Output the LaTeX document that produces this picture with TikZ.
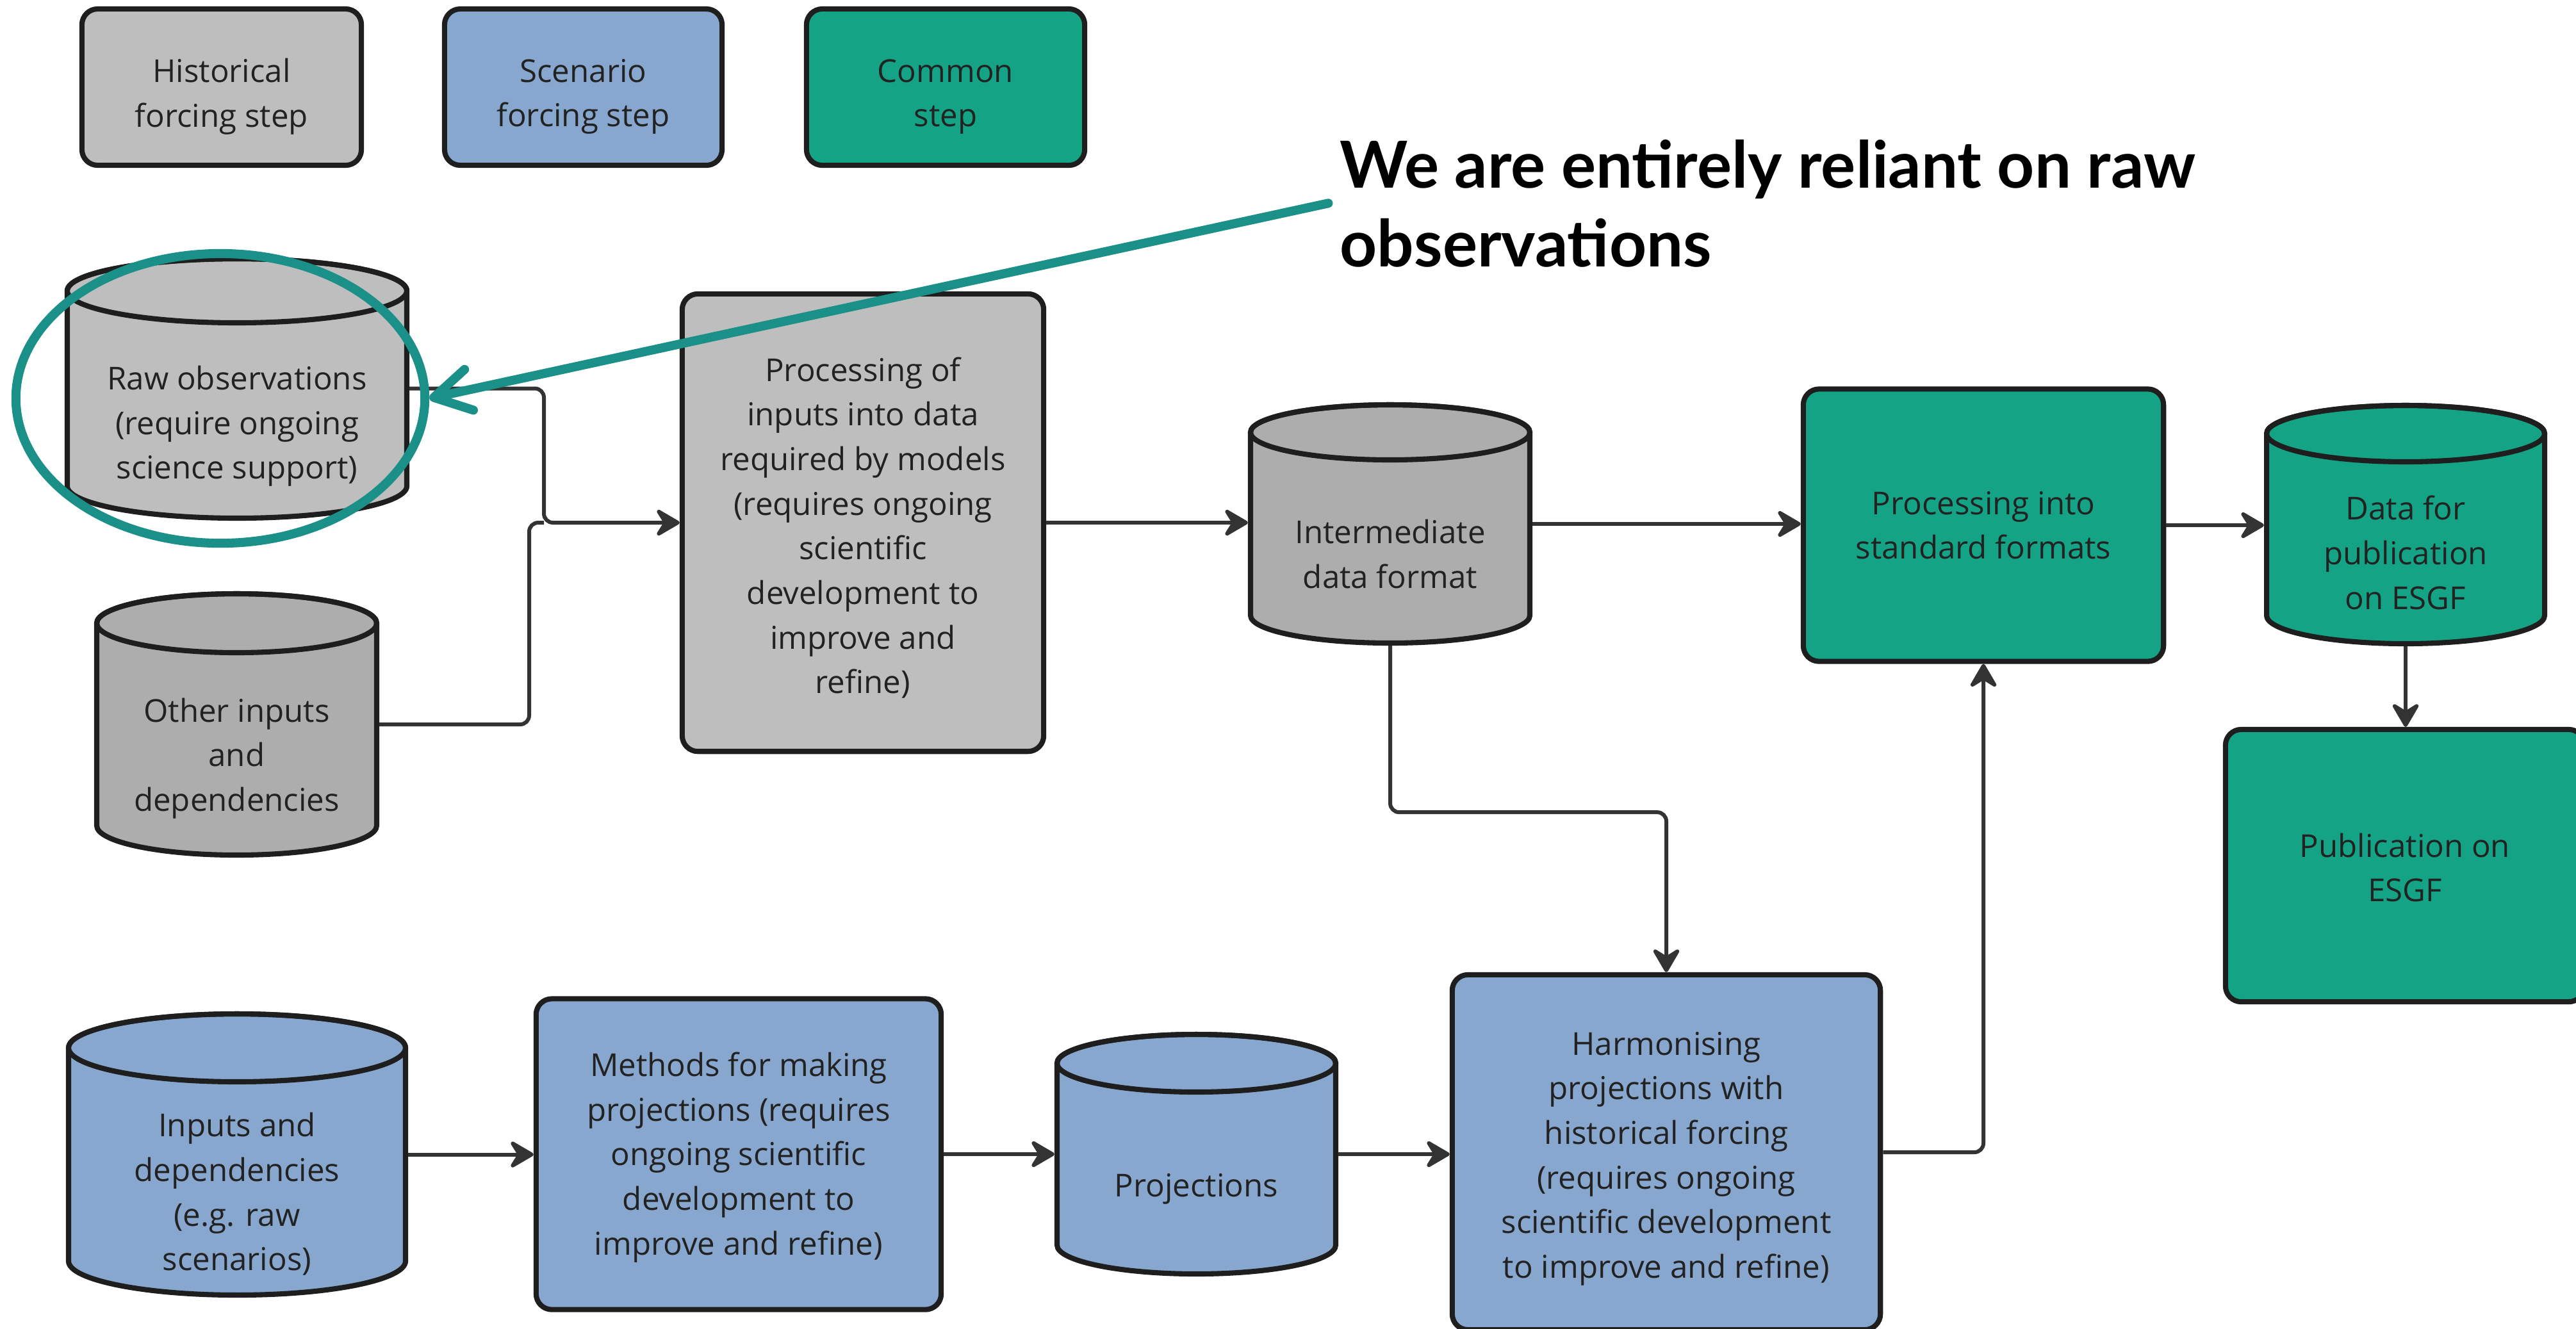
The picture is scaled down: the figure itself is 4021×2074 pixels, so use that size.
\documentclass[tikz,border=0pt]{standalone}
\usepackage{fontspec}
\setmainfont{Open Sans}
\newfontfamily\notefont{Lato}
\usetikzlibrary{arrows.meta,shapes.geometric}

\definecolor{histgray}{HTML}{BEBEBE}
\definecolor{deepgray}{HTML}{ADADAD}
\definecolor{scenblue}{HTML}{87A7CE}
\definecolor{commongreen}{HTML}{15A386}
\definecolor{hiteal}{HTML}{1A9088}
\definecolor{edgecol}{HTML}{1E1E1E}
\definecolor{wirecol}{HTML}{333333}
\definecolor{ink}{HTML}{222222}

\newcommand\boxfont{\fontsize{14}{19.8}\selectfont}

\tikzset{
  stepbox/.style={draw=edgecol, line width=2.3pt, rounded corners=7pt, inner sep=0pt},
  boxtext/.style={align=center, inner sep=0pt, text=ink, font=\boxfont},
  drumline/.style={draw=edgecol, line width=2.3pt},
  wire/.style={draw=wirecol, line width=1.7pt, rounded corners=4pt,
               -{Stealth[length=12.5pt,width=14.5pt,inset=4.5pt,round]}},
  plainwire/.style={draw=wirecol, line width=1.7pt, rounded corners=4pt},
  tealline/.style={draw=hiteal, line width=4pt, line cap=round},
}

% process box: name, centre x, centre y, width, height, fill, text drop, text
\newcommand\stepnode[8]{%
  \pgfmathsetmacro\sw{#4/100}%
  \pgfmathsetmacro\sh{#5/100}%
  \node[stepbox, fill=#6, minimum width=\sw cm, minimum height=\sh cm] (#1) at (#2,-#3) {};
  \node[boxtext] (#1t) at (#2,-#3-#7) {#8};
}

% database drum: name, left, top, right, bottom, cap radius, fill, text drop, text
\newcommand\drum[9]{%
  \pgfmathsetmacro\dcx{(#2+#4)/2}%
  \pgfmathsetmacro\drx{(#4-#2)/2}%
  \pgfmathsetmacro\dw{(#4-#2)/100}%
  \pgfmathsetmacro\dh{(#5-#3)/100}%
  \pgfmathsetmacro\dcy{-(#3+#5)/2}%
  \pgfmathsetmacro\dty{-(#3+#6)}%
  \pgfmathsetmacro\dby{-(#5-#6)}%
  \pgfmathsetmacro\dly{-(#3+2*#6+#5)/2-#8}%
  \path[drumline, fill=#7] (#2,\dty) -- (#2,\dby)
     arc[start angle=180, end angle=360, x radius=\drx, y radius=#6]
     -- (#4,\dty)
     arc[start angle=0, end angle=180, x radius=\drx, y radius=#6] -- cycle;
  \draw[drumline] (\dcx,\dty) ellipse[x radius=\drx, y radius=#6];
  \node[inner sep=0pt, outer sep=1.15pt, minimum width=\dw cm, minimum height=\dh cm] (#1) at (\dcx,\dcy) {};
  \node[boxtext] (#1t) at (\dcx,\dly) {#9};
}

\begin{document}
\begin{tikzpicture}[x=0.01cm, y=0.01cm]
\useasboundingbox (0,0) rectangle (4021,-2074);
\fill[white] (0,0) rectangle (4021,-2074);
\clip (0,0) rectangle (4021,-2074);

% legend
\stepnode{legH}{346}{136}{436}{244}{histgray}{15}{Historical\\forcing step}
\stepnode{legS}{910.5}{136}{433}{244}{scenblue}{15}{Scenario\\forcing step}
\stepnode{legC}{1476}{136}{434}{244}{commongreen}{15}{Common\\step}

% historical chain
\drum{raw}{105}{404}{635}{809}{50}{histgray}{9}{Raw observations\\(require ongoing\\science support)}
\drum{oth}{151}{927}{588}{1335}{46}{deepgray}{7}{Other inputs\\and\\dependencies}
\stepnode{proc}{1347}{816}{564}{714}{histgray}{8}{Processing of\\inputs into data\\required by models\\(requires ongoing\\scientific\\development to\\improve and\\refine)}
\drum{inter}{1952}{632}{2388}{1004}{43}{deepgray}{4}{Intermediate\\data format}

% common chain
\stepnode{std}{3096}{820}{562}{425}{commongreen}{0}{Processing into\\standard formats}
\drum{data}{3538}{633}{3972}{1005}{44}{commongreen}{0}{Data for\\publication\\on ESGF}
\stepnode{pub}{3754}{1351.5}{560}{425}{commongreen}{3}{Publication on\\ESGF}

% scenario chain
\drum{inp}{107}{1583}{633}{2022}{53}{scenblue}{9}{Inputs and\\dependencies\\(e.g. raw\\scenarios)}
\stepnode{meth}{1153}{1802}{632}{485}{scenblue}{5}{Methods for making\\projections (requires\\ongoing scientific\\development to\\improve and refine)}
\drum{proj}{1650}{1615}{2085}{1989}{45}{scenblue}{9}{Projections}
\stepnode{harm}{2601}{1799}{668}{554}{scenblue}{10}{Harmonising\\projections with\\historical forcing\\(requires ongoing\\scientific development\\to improve and refine)}

% connectors
\coordinate (join) at (849,-816);
\draw[plainwire] (oth.east) -| (826,-816) -- (join);
\draw[wire] (raw.east) -| (join) -- (proc.west);
\draw[wire] (proc.east) -- (proc.east -| inter.west);
\draw[wire] (inter.east) -- (inter.east -| std.west);
\draw[wire] (std.east) -- (std.east -| data.west);
\draw[wire] (data.south) -- (data.south |- pub.north);
\draw[wire] (inter.south) -- ++(0,-260) -| (harm.north);
\draw[wire] (harm.east) -| (std.south);
\draw[wire] (inp.east) -- (inp.east -| meth.west);
\draw[wire] (meth.east) -- (meth.east -| proj.west);
\draw[wire] (proj.east) -- (proj.east -| harm.west);

% highlight and note
\node[ellipse, draw=hiteal, line width=4pt, inner sep=0pt, minimum width=6.38cm, minimum height=4.52cm] (hl) at (344,-622) {};
\node[anchor=north west, inner sep=0pt, align=left, text=black,
      font=\notefont\bfseries\fontsize{28.8}{35}\selectfont] (note) at (2091,-217)
  {We are entirely reliant on raw\\observations};
\draw[tealline, -{Straight Barb[length=16pt,width=18.5pt,round]}] ([xshift=-5pt]note.west) -- (hl.east);

\end{tikzpicture}
\end{document}
